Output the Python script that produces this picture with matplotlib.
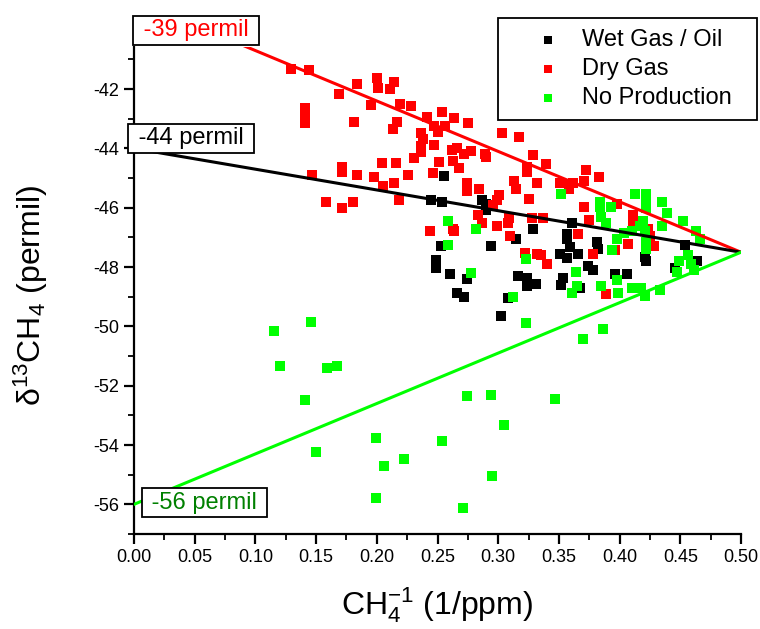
import matplotlib
matplotlib.use("Agg")
import matplotlib.pyplot as plt
from matplotlib.patches import Rectangle
from matplotlib.ticker import MultipleLocator, FormatStrFormatter

plt.rcParams['font.family'] = ['Liberation Sans', 'DejaVu Sans']
plt.rcParams['mathtext.fontset'] = 'custom'
plt.rcParams['mathtext.rm'] = 'Liberation Sans'
plt.rcParams['mathtext.it'] = 'Liberation Sans'
plt.rcParams['axes.unicode_minus'] = False

# inverse CH4 (1/ppm) and d13CH4 (permil) per group
wet_x = [0.255, 0.245, 0.254, 0.287, 0.290, 0.290, 0.253, 0.249, 0.249, 0.260,
         0.274, 0.266, 0.272, 0.294, 0.315, 0.329, 0.316, 0.324, 0.324, 0.331,
         0.308, 0.302, 0.361, 0.357, 0.357, 0.359, 0.351, 0.357, 0.366, 0.374,
         0.378, 0.353, 0.352, 0.367, 0.381, 0.382, 0.396, 0.406, 0.421, 0.422,
         0.446, 0.464, 0.454]
wet_y = [-44.94, -45.75, -45.79, -45.75, -45.89, -46.09, -47.28, -47.75, -48.02, -48.22,
         -48.39, -48.87, -49.00, -47.28, -47.04, -46.73, -48.29, -48.36, -48.63, -48.56,
         -49.03, -49.64, -46.53, -46.87, -47.04, -47.34, -47.55, -47.68, -47.55, -47.95,
         -48.09, -48.36, -48.60, -48.70, -47.17, -47.38, -48.22, -48.22, -47.65, -47.78,
         -48.02, -47.78, -47.24]

dry_x = [0.129, 0.144, 0.169, 0.184, 0.200, 0.201, 0.214, 0.211, 0.195, 0.141,
         0.141, 0.141, 0.181, 0.213, 0.217, 0.171, 0.171, 0.184, 0.147, 0.198,
         0.204, 0.216, 0.205, 0.214, 0.158, 0.171, 0.180, 0.218, 0.219, 0.228,
         0.241, 0.254, 0.264, 0.275, 0.247, 0.256, 0.250, 0.236, 0.238, 0.236,
         0.236, 0.247, 0.266, 0.262, 0.272, 0.278, 0.231, 0.251, 0.263, 0.268,
         0.226, 0.246, 0.274, 0.274, 0.284, 0.289, 0.290, 0.303, 0.317, 0.329,
         0.339, 0.324, 0.324, 0.351, 0.358, 0.358, 0.362, 0.372, 0.371, 0.383,
         0.313, 0.315, 0.332, 0.301, 0.299, 0.296, 0.325, 0.371, 0.375, 0.283,
         0.287, 0.299, 0.309, 0.308, 0.328, 0.337, 0.310, 0.366, 0.244, 0.263,
         0.264, 0.322, 0.332, 0.335, 0.340, 0.378, 0.389, 0.398, 0.411, 0.411,
         0.407, 0.396, 0.425, 0.428, 0.423]
dry_y = [-41.32, -41.36, -42.17, -41.83, -41.63, -41.97, -41.76, -42.00, -42.54, -42.64,
         -42.85, -43.15, -43.12, -43.35, -43.12, -44.64, -44.81, -44.91, -44.91, -44.98,
         -44.50, -44.50, -45.25, -45.18, -45.82, -46.02, -45.82, -45.75, -42.51, -42.57,
         -42.95, -42.78, -42.98, -43.15, -43.25, -43.25, -43.45, -43.49, -43.69, -43.93,
         -44.13, -43.89, -44.00, -44.06, -44.20, -44.10, -44.33, -44.47, -44.44, -44.67,
         -44.91, -44.84, -45.18, -45.42, -45.38, -44.20, -44.30, -43.49, -43.62, -44.23,
         -44.54, -44.64, -44.81, -45.15, -45.21, -45.38, -45.15, -44.74, -45.11, -44.98,
         -45.11, -45.38, -45.18, -45.58, -45.75, -45.92, -45.69, -45.96, -46.40, -46.26,
         -46.50, -46.63, -46.33, -46.50, -46.36, -46.36, -46.94, -46.87, -46.80, -46.70,
         -46.80, -47.51, -47.55, -47.58, -47.88, -47.55, -48.90, -45.89, -46.23, -46.43,
         -47.21, -47.41, -46.94, -47.28, -46.70]

none_x = [0.115, 0.146, 0.120, 0.159, 0.167, 0.141, 0.150, 0.199, 0.206, 0.222,
          0.199, 0.254, 0.274, 0.294, 0.295, 0.271, 0.305, 0.347, 0.323, 0.312,
          0.370, 0.386, 0.259, 0.259, 0.278, 0.282, 0.323, 0.352, 0.364, 0.365,
          0.361, 0.385, 0.398, 0.399, 0.410, 0.418, 0.421, 0.433, 0.413, 0.422,
          0.422, 0.422, 0.435, 0.439, 0.435, 0.452, 0.463, 0.466, 0.384, 0.384,
          0.385, 0.389, 0.393, 0.398, 0.394, 0.404, 0.417, 0.419, 0.421, 0.410,
          0.422, 0.422, 0.456, 0.449, 0.447, 0.459, 0.461]
none_y = [-50.15, -49.85, -51.33, -51.40, -51.33, -52.48, -54.24, -53.77, -54.72, -54.48,
          -55.80, -53.87, -52.35, -52.32, -55.05, -56.14, -53.33, -52.45, -49.88, -49.00,
          -50.42, -50.08, -46.43, -47.24, -48.19, -46.73, -47.72, -45.55, -48.15, -48.63,
          -48.87, -48.63, -48.43, -48.87, -48.70, -48.70, -48.97, -48.76, -45.52, -45.52,
          -45.79, -46.02, -45.82, -46.19, -46.60, -46.46, -46.77, -47.04, -45.79, -45.99,
          -46.30, -46.53, -45.99, -47.04, -47.44, -46.84, -46.60, -46.46, -46.77, -46.77,
          -47.17, -47.38, -47.58, -47.78, -48.15, -47.88, -48.09]

# mixing lines: end member at 1/CH4 = 0 and common background point at 0.5
mix_x = [0.0, 0.5]
red_line = [-39.0, -47.5]
black_line = [-44.0, -47.5]
green_line = [-56.0, -47.5]

W, H = 760, 629
fig = plt.figure(figsize=(W / 100, H / 100), dpi=100)
ax = fig.add_axes([134 / W, 1 - 534 / H, 607 / W, 487 / H])

ax.scatter(wet_x, wet_y, marker='s', s=52, c='black', linewidths=0, label='Wet Gas / Oil', zorder=2)
ax.scatter(dry_x, dry_y, marker='s', s=52, c='#ff0000', linewidths=0, label='Dry Gas', zorder=2)
ax.scatter(none_x, none_y, marker='s', s=52, c='#00ff00', linewidths=0, label='No Production', zorder=2)

ax.plot(mix_x, red_line, color='#ff0000', lw=2.2, zorder=3)
ax.plot(mix_x, black_line, color='black', lw=2.2, zorder=3)
ax.plot(mix_x, green_line, color='#00ff00', lw=2.2, zorder=3)

box = dict(boxstyle='square,pad=0.15', facecolor='white', edgecolor='black', lw=1.3)
ax.text(0.051, -40.02, ' -39 permil ', color='#ff0000', fontsize=17, ha='center', va='center',
        bbox=box, zorder=5, clip_on=False)
ax.text(0.047, -43.65, ' -44 permil ', color='black', fontsize=17, ha='center', va='center',
        bbox=box, zorder=5, clip_on=False)
ax.text(0.058, -55.95, ' -56 permil ', color='#008000', fontsize=17, ha='center', va='center',
        bbox=box, zorder=5, clip_on=False)

ax.set_xlim(0, 0.5)
ax.set_ylim(-57, -40.58)
ax.xaxis.set_major_locator(MultipleLocator(0.05))
ax.xaxis.set_minor_locator(MultipleLocator(0.025))
ax.xaxis.set_major_formatter(FormatStrFormatter('%.2f'))
ax.yaxis.set_major_locator(MultipleLocator(2))
ax.yaxis.set_minor_locator(MultipleLocator(1))
ax.spines['top'].set_visible(False)
ax.spines['right'].set_visible(False)
ax.spines['left'].set_linewidth(1.6)
ax.spines['bottom'].set_linewidth(1.6)
ax.tick_params(which='major', direction='out', length=7, width=1.6, labelsize=13)
ax.tick_params(which='minor', direction='out', length=4, width=1.3)

ax.set_xlabel('CH$_4^{-1}$ (1/ppm)', fontsize=23)
ax.set_ylabel('δ$^{13}$CH$_4$ (permil)', fontsize=23)
ax.xaxis.set_label_coords(0.5, -0.105)
ax.yaxis.set_label_coords(-0.138, 0.49)

leg = ax.legend(loc='upper left', bbox_to_anchor=(534 / W, 1 - 29 / H),
                bbox_transform=fig.transFigure, borderaxespad=0, borderpad=0,
                fontsize=17, frameon=False, markerscale=0.85, handlelength=1.2,
                handletextpad=0.85, labelspacing=0.3, scatterpoints=1)
leg.set_zorder(6)
fig.patches.append(Rectangle((498 / W, 1 - 120 / H), 259 / W, 102 / H,
                             transform=fig.transFigure, fill=False,
                             edgecolor='black', lw=1.3, zorder=6))

fig.savefig('out.png', dpi=100)
